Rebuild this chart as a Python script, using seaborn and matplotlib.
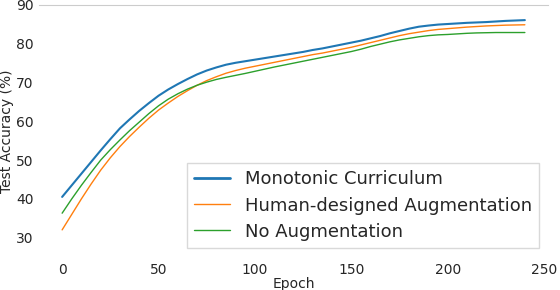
import numpy as np
import pandas as pd
import matplotlib
matplotlib.use("Agg")
import matplotlib.pyplot as plt
from matplotlib.lines import Line2D
import seaborn as sns

epochs = list(range(0, 245, 5))
monotonic = [40.5, 43.5, 46.5, 49.5, 52.5, 55.4, 58.2, 60.5, 62.7, 64.7,
             66.6, 68.2, 69.6, 70.9, 72.1, 73.1, 73.9, 74.6, 75.1, 75.5,
             75.9, 76.3, 76.7, 77.1, 77.5, 77.9, 78.4, 78.8, 79.3, 79.8,
             80.3, 80.8, 81.4, 82.0, 82.7, 83.3, 83.9, 84.4, 84.7, 84.95,
             85.1, 85.25, 85.4, 85.5, 85.6, 85.75, 85.9, 86.0, 86.1]
human = [32.0, 36.0, 40.0, 43.8, 47.4, 50.6, 53.5, 56.1, 58.5, 60.8,
         62.9, 64.7, 66.4, 67.9, 69.3, 70.5, 71.5, 72.4, 73.1, 73.7,
         74.2, 74.7, 75.2, 75.7, 76.2, 76.7, 77.2, 77.6, 78.1, 78.6,
         79.1, 79.7, 80.3, 80.9, 81.5, 82.1, 82.6, 83.0, 83.4, 83.7,
         83.9, 84.1, 84.3, 84.45, 84.6, 84.7, 84.8, 84.85, 84.9]
noaug = [36.3, 40.0, 43.5, 46.8, 50.0, 52.7, 55.2, 57.6, 59.8, 62.0,
         64.0, 65.7, 67.1, 68.3, 69.3, 70.1, 70.8, 71.35, 71.85, 72.35,
         72.9, 73.45, 74.0, 74.5, 75.0, 75.5, 76.0, 76.5, 77.0, 77.5,
         78.0, 78.6, 79.3, 79.9, 80.5, 81.0, 81.4, 81.8, 82.1, 82.3,
         82.4, 82.55, 82.7, 82.8, 82.85, 82.9, 82.9, 82.9, 82.9]
names = ["Monotonic Curriculum", "Human-designed Augmentation", "No Augmentation"]
xticks = [0, 50, 100, 150, 200, 250]
yticks = [30, 40, 50, 60, 70, 80, 90]

df = pd.concat([
    pd.DataFrame({"Epoch": epochs, "acc": vals, "method": name})
    for name, vals in zip(names, [monotonic, human, noaug])
])

sns.set_style("white")
plt.rcParams['font.family'] = ['DejaVu Sans']

fig = plt.figure(figsize=(5.6, 2.9), dpi=100)
ax = fig.add_axes([39/560, 1-257/290, (548-39)/560, (257-5)/290])
palette = {names[0]: "#1f77b4", names[1]: "#ff7f0e", names[2]: "#2ca02c"}
sns.lineplot(data=df, x="Epoch", y="acc", hue="method", palette=palette,
             size="method", sizes={names[0]: 1.5, names[1]: 1.0, names[2]: 1.0},
             ax=ax, legend=False)

ax.set_xlim(-12, 252)
ax.set_ylim(25, 90)
ax.set_xticks(xticks)
ax.set_yticks(yticks)
ax.tick_params(axis="both", labelsize=10, length=2, color="0.75", pad=2)
ax.set_xlabel("Epoch", fontsize=10, labelpad=0)
ax.set_ylabel("Test Accuracy (%)", fontsize=10, labelpad=1)
for s in ["left", "right", "bottom"]:
    ax.spines[s].set_visible(False)
ax.spines["top"].set_color("0.8")
ax.grid(False)

handles = [Line2D([], [], color=palette[names[0]], lw=2.0),
           Line2D([], [], color=palette[names[1]], lw=1.0),
           Line2D([], [], color=palette[names[2]], lw=1.0)]
leg = ax.legend(handles, names, loc="lower right", fontsize=13, frameon=True,
                fancybox=False, framealpha=1.0, edgecolor="0.85",
                borderaxespad=0.5, labelspacing=0.45, handletextpad=0.8)
leg.get_frame().set_linewidth(1.0)

fig.savefig("out.png", dpi=100)
